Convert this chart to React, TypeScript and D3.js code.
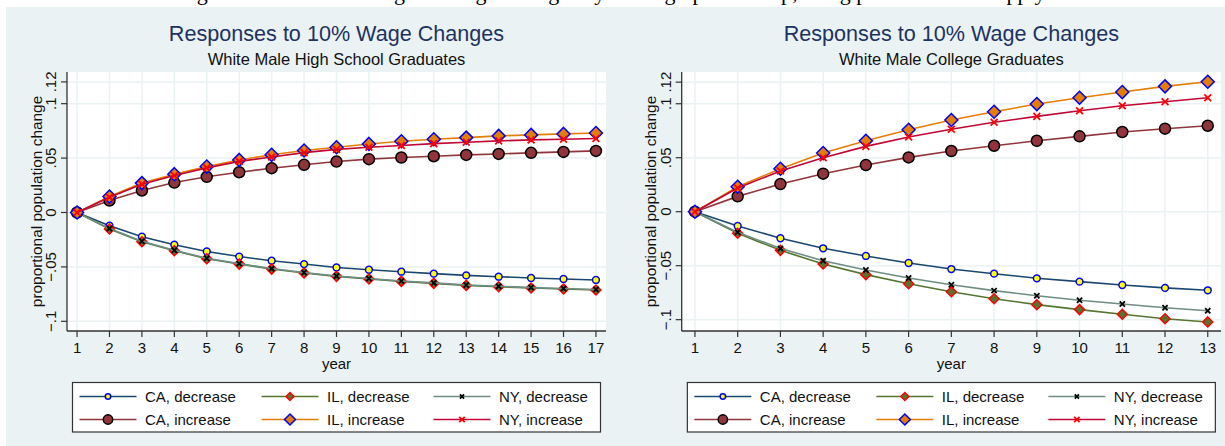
import React from 'react';
import * as d3 from 'd3';

// years on the x axis
const yearsHS = [1, 2, 3, 4, 5, 6, 7, 8, 9, 10, 11, 12, 13, 14, 15, 16, 17];
const yearsCol = [1, 2, 3, 4, 5, 6, 7, 8, 9, 10, 11, 12, 13];

// White Male High School Graduates
const caDecHS = [0, -0.0122, -0.0223, -0.0296, -0.0358, -0.0405, -0.0443, -0.0474, -0.0505, -0.0526, -0.0544, -0.0562, -0.0578, -0.059, -0.0602, -0.0611, -0.062];
const ilDecHS = [0, -0.0152, -0.0269, -0.0351, -0.0425, -0.0474, -0.052, -0.0556, -0.0587, -0.0611, -0.0633, -0.0651, -0.067, -0.0682, -0.0694, -0.0703, -0.0712];
const nyDecHS = [0, -0.0148, -0.0265, -0.0347, -0.0421, -0.047, -0.0516, -0.0552, -0.0583, -0.0607, -0.0629, -0.0647, -0.0666, -0.0678, -0.069, -0.0699, -0.0708];
const caIncHS = [0, 0.011, 0.0202, 0.0275, 0.0328, 0.037, 0.0407, 0.0438, 0.0468, 0.049, 0.0505, 0.0517, 0.0529, 0.0538, 0.0548, 0.0557, 0.0566];
const ilIncHS = [0, 0.0147, 0.027, 0.0352, 0.0422, 0.0483, 0.053, 0.057, 0.06, 0.063, 0.0655, 0.0673, 0.0688, 0.0704, 0.0713, 0.0722, 0.0731];
const nyIncHS = [0, 0.014, 0.026, 0.034, 0.041, 0.047, 0.051, 0.055, 0.058, 0.06, 0.0615, 0.0633, 0.0646, 0.0658, 0.0667, 0.0673, 0.068];

// White Male College Graduates
const caDecCol = [0, -0.0132, -0.0246, -0.0339, -0.041, -0.0475, -0.0531, -0.0574, -0.0617, -0.0648, -0.0679, -0.0706, -0.0728];
const ilDecCol = [0, -0.02, -0.0358, -0.0484, -0.0583, -0.0667, -0.0741, -0.0806, -0.0861, -0.0907, -0.095, -0.0991, -0.1021];
const nyDecCol = [0, -0.0191, -0.034, -0.0454, -0.054, -0.0614, -0.0676, -0.0731, -0.0778, -0.082, -0.0855, -0.0889, -0.0917];
const caIncCol = [0, 0.0142, 0.0256, 0.0352, 0.0432, 0.0503, 0.0562, 0.0611, 0.0657, 0.0698, 0.0738, 0.0769, 0.0796];
const ilIncCol = [0, 0.0231, 0.0398, 0.0543, 0.0657, 0.0759, 0.0849, 0.0926, 0.0997, 0.1056, 0.1108, 0.1161, 0.1204];
const nyIncCol = [0, 0.022, 0.0377, 0.05, 0.0605, 0.0692, 0.0763, 0.0828, 0.0883, 0.0935, 0.0982, 0.1019, 0.1056];

const seriesNames = ['CA, decrease', 'IL, decrease', 'NY, decrease', 'CA, increase', 'IL, increase', 'NY, increase'];
const yTicks = [-0.1, -0.05, 0, 0.05, 0.1, 0.12];
const yTickLabels = ['\u2212.1', '\u2212.05', '0', '.05', '.1', '.12'];

const FONT = 'Liberation Sans, Arial, sans-serif';
const BG = '#eaf2f3';

// stata s2color look per series
const styles = [
  { line: '#1a476f', marker: 'circle', size: 3.4, fill: '#ffff00', stroke: '#0000ff' },
  { line: '#55752f', marker: 'diamond', size: 5, fill: '#55752f', stroke: '#ff0000' },
  { line: '#6e8e84', marker: 'x', size: 2.6, fill: 'none', stroke: '#000000' },
  { line: '#90353b', marker: 'circle', size: 5.5, fill: '#90353b', stroke: '#000000' },
  { line: '#e37e00', marker: 'diamond', size: 6.5, fill: '#e37e00', stroke: '#0000ff' },
  { line: '#c10534', marker: 'x', size: 3.4, fill: 'none', stroke: '#ff0000' },
];

function Marker({ x, y, s }: { x: number; y: number; s: any }) {
  if (s.marker === 'circle') {
    return <circle cx={x} cy={y} r={s.size} fill={s.fill} stroke={s.stroke} strokeWidth={1.5} />;
  }
  if (s.marker === 'diamond') {
    const r = s.size;
    return (
      <path
        d={`M${x},${y - r}L${x + r},${y}L${x},${y + r}L${x - r},${y}Z`}
        fill={s.fill}
        stroke={s.stroke}
        strokeWidth={1.5}
      />
    );
  }
  const r = s.size;
  return (
    <path
      d={`M${x - r},${y - r}L${x + r},${y + r}M${x - r},${y + r}L${x + r},${y - r}`}
      stroke={s.stroke}
      strokeWidth={1.8}
      fill="none"
    />
  );
}

function Panel({ left, right, years, series, subtitle, yDomain }: any) {
  const top = 72;
  const bottom = 331;
  const x = d3
    .scaleLinear()
    .domain([years[0] - 0.31, years[years.length - 1] + 0.31])
    .range([left, right]);
  const y = d3.scaleLinear().domain(yDomain).range([bottom, top]);
  const cx = (left + right) / 2;
  const line = d3
    .line<number>()
    .x((_, i) => x(years[i]))
    .y((d) => y(d));

  const legLeft = cx - 264;
  const colOff = [7, 189, 361];
  const rowY = [396.5, 419.5];

  return (
    <g fontFamily={FONT}>
      <text x={cx} y={41} textAnchor="middle" fontSize={21.6} fill="#1e3262">
        Responses to 10% Wage Changes
      </text>
      <text x={cx} y={65} textAnchor="middle" fontSize={16.5} fill="#111">
        {subtitle}
      </text>
      <rect x={left} y={top} width={right - left} height={bottom - top} fill="#fff" />
      {yTicks.map((t) => (
        <line key={'gy' + t} x1={left} x2={right} y1={y(t)} y2={y(t)} stroke={BG} strokeWidth={1.5} />
      ))}
      {years.map((t: number) => (
        <line key={'gx' + t} x1={x(t)} x2={x(t)} y1={top} y2={bottom} stroke={BG} strokeWidth={1.5} />
      ))}
      {series.map((vals: number[], k: number) => (
        <g key={'s' + k}>
          <path d={line(vals) || ''} fill="none" stroke={styles[k].line} strokeWidth={1.6} />
          {vals.map((v, i) => (
            <Marker key={i} x={x(years[i])} y={y(v)} s={styles[k]} />
          ))}
        </g>
      ))}
      <line x1={left} x2={left} y1={top} y2={bottom} stroke="#333" strokeWidth={1.3} />
      <line x1={left} x2={right} y1={bottom} y2={bottom} stroke="#333" strokeWidth={1.3} />
      {yTicks.map((t, i) => (
        <g key={'ty' + t}>
          <line x1={left - 6} x2={left} y1={y(t)} y2={y(t)} stroke="#333" strokeWidth={1.2} />
          <text
            transform={`translate(${left - 11},${y(t)}) rotate(-90)`}
            textAnchor="middle"
            fontSize={15}
            fill="#111"
          >
            {yTickLabels[i]}
          </text>
        </g>
      ))}
      {years.map((t: number) => (
        <g key={'tx' + t}>
          <line x1={x(t)} x2={x(t)} y1={bottom} y2={bottom + 6} stroke="#333" strokeWidth={1.2} />
          <text x={x(t)} y={352.5} textAnchor="middle" fontSize={15} fill="#111">
            {t}
          </text>
        </g>
      ))}
      <text x={cx} y={368.5} textAnchor="middle" fontSize={15} fill="#111">
        year
      </text>
      <text
        transform={`translate(${left - 25.5},${(top + bottom) / 2}) rotate(-90)`}
        textAnchor="middle"
        fontSize={15.4}
        fill="#111"
      >
        proportional population change
      </text>
      <rect x={legLeft} y={382.5} width={528} height={49.5} fill="#fff" stroke="#333" strokeWidth={1.2} />
      {seriesNames.map((name, k) => {
        const col = k % 3;
        const row = Math.floor(k / 3);
        const lx = legLeft + colOff[col];
        const ly = rowY[row];
        return (
          <g key={'lg' + k}>
            <line x1={lx} x2={lx + 57} y1={ly} y2={ly} stroke={styles[k].line} strokeWidth={1.6} />
            <Marker x={lx + 28.5} y={ly} s={{ ...styles[k], size: styles[k].size * (k === 3 || k === 4 ? 0.85 : 0.8) }} />
            <text x={lx + 65.5} y={ly + 5.3} fontSize={15} fill="#111">
              {name}
            </text>
          </g>
        );
      })}
    </g>
  );
}

export default function App() {
  return (
    <svg
      width={1225}
      height={446}
      style={{ position: 'absolute', left: 0, top: 0, background: '#fff' }}
    >
      <text x={612} y={0} textAnchor="middle" fontSize={22} fontFamily="Liberation Serif, serif" fill="#000">
        Figure 6: Simulated Long-run Wage Changes by Demographic Group, using parameters that apply
      </text>
      <rect x={6} y={7} width={1219} height={439} fill={BG} />
      <Panel
        left={67}
        right={606}
        years={yearsHS}
        series={[caDecHS, ilDecHS, nyDecHS, caIncHS, ilIncHS, nyIncHS]}
        subtitle="White Male High School Graduates"
        yDomain={[-0.1089, 0.1291]}
      />
      <Panel
        left={681.7}
        right={1221}
        years={yearsCol}
        series={[caDecCol, ilDecCol, nyDecCol, caIncCol, ilIncCol, nyIncCol]}
        subtitle="White Male College Graduates"
        yDomain={[-0.1105, 0.1294]}
      />
    </svg>
  );
}
